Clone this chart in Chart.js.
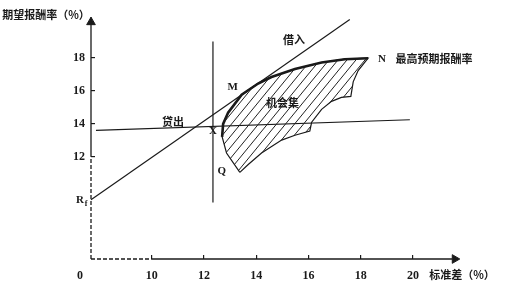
<!DOCTYPE html>
<html>
<head>
<meta charset="utf-8">
<script src="https://cdn.jsdelivr.net/npm/chart.js@4.4.1/dist/chart.umd.min.js"></script>
<style>
  body { margin: 0; background: #fff; }
</style>
</head>
<body>
<canvas id="chart1" width="506" height="287"></canvas>
<script>
// axis ranges and ticks
var xMin = 7.67, xMax = 21.8;
var yMin = 5.82, yMax = 20.44;
var xTicks = [10, 12, 14, 16, 18, 20];
var yTicks = [12, 14, 16, 18];
var rf = 9.4;

// capital market line (借入)
var cmlX = [xMin, 17.58];
var cmlY = [rf, 20.3];

// lending line (贷出)
var lendX = [7.86, 19.88];
var lendY = [13.60, 14.24];

// vertical line through X and Q
var vertX = [12.34, 12.34];
var vertY = [18.97, 9.24];

// efficient frontier, from the left edge to N
var frontX = [12.69, 12.73, 12.92, 13.44, 14.07, 14.58, 15.48, 16.50, 17.39, 18.28];
var frontY = [13.21, 13.99, 14.67, 15.75, 16.43, 16.82, 17.31, 17.70, 17.90, 17.96];

// opportunity set outline (机会集), closed
var setX = [13.37, 12.86, 12.69, 12.73, 12.92, 13.44, 14.07, 14.58, 15.48, 16.50, 17.39, 18.28,
            17.90, 17.71, 17.62, 17.26, 16.88, 16.50, 16.12, 16.05, 15.48, 14.97, 14.20, 13.68, 13.37];
var setY = [11.06, 12.23, 13.21, 13.99, 14.67, 15.75, 16.43, 16.82, 17.31, 17.70, 17.90, 17.96,
            17.21, 16.53, 15.65, 15.59, 15.35, 14.87, 14.09, 13.56, 13.30, 13.01, 12.23, 11.52, 11.06];

function pts(xs, ys) {
    return xs.map(function (x, i) { return { x: x, y: ys[i] }; });
}

// hatch pattern
var tile = document.createElement('canvas');
tile.width = 9; tile.height = 11;
var tc = tile.getContext('2d');
tc.strokeStyle = '#222';
tc.lineWidth = 1;
[-9, 0, 9].forEach(function (x0) {
    tc.beginPath();
    tc.moveTo(x0, 11);
    tc.lineTo(x0 + 9, 0);
    tc.stroke();
});
var hatch = tc.createPattern(tile, 'repeat');

var ink = '#1a1a1a';
var serifBold = 'bold 11px "Liberation Serif"';
var cjkBold = 'bold 11px "Noto Sans CJK SC"';

var labels = [
    { text: '借入', x: 15.44, y: 19.09, font: cjkBold },
    { text: 'N', x: 18.81, y: 17.92, font: serifBold },
    { text: '最高预期报酬率', x: 20.80, y: 17.92, font: cjkBold },
    { text: 'M', x: 13.10, y: 16.22, font: serifBold },
    { text: '机会集', x: 15.00, y: 15.28, font: cjkBold },
    { text: '贷出', x: 10.81, y: 14.11, font: cjkBold },
    { text: 'X', x: 12.34, y: 13.52, font: serifBold },
    { text: 'Q', x: 12.68, y: 11.11, font: serifBold }
];

var textPlugin = {
    id: 'texts',
    afterDatasetsDraw: function (chart) {
        var c = chart.ctx, xs = chart.scales.x, ys = chart.scales.y;
        c.save();
        c.fillStyle = ink;
        c.textAlign = 'center';
        c.textBaseline = 'middle';
        labels.forEach(function (l) {
            c.font = l.font;
            c.fillText(l.text, xs.getPixelForValue(l.x), ys.getPixelForValue(l.y));
        });
        // R_f on the y axis
        var ry = ys.getPixelForValue(rf);
        var ax = xs.getPixelForValue(xMin);
        c.font = serifBold;
        c.fillText('R', ax - 11, ry);
        c.font = 'bold 8px "Liberation Serif"';
        c.fillText('f', ax - 5, ry + 4);
        // origin label
        c.font = 'bold 12px "Liberation Serif"';
        c.fillText('0', ax - 11, 276);
        // axis titles
        c.font = cjkBold;
        c.fillText('期望报酬率（%）', 46, 15);
        c.fillText('标准差（%）', 462, 275);
        c.restore();
    }
};

var ctx1 = document.getElementById('chart1').getContext('2d');
var chart1 = new Chart(ctx1, {
    type: 'scatter',
    data: {
        datasets: [
            {   // opportunity set, hatched
                data: pts(setX, setY),
                showLine: true,
                fill: 'shape',
                backgroundColor: hatch,
                borderColor: ink,
                borderWidth: 1.2,
                pointRadius: 0
            },
            {   // efficient frontier, bold
                data: pts(frontX, frontY),
                showLine: true,
                borderColor: ink,
                borderWidth: 2.6,
                pointRadius: 0
            },
            {
                data: pts(cmlX, cmlY),
                showLine: true,
                borderColor: ink,
                borderWidth: 1.2,
                pointRadius: 0,
                clip: false
            },
            {
                data: pts(lendX, lendY),
                showLine: true,
                borderColor: ink,
                borderWidth: 1.2,
                pointRadius: 0
            },
            {
                data: pts(vertX, vertY),
                showLine: true,
                borderColor: ink,
                borderWidth: 1.2,
                pointRadius: 0
            },
            {   // y axis, solid part
                data: [{ x: xMin, y: 12 }, { x: xMin, y: yMax }],
                showLine: true, borderColor: ink, borderWidth: 1.3, pointRadius: 0, clip: false
            },
            {   // y axis, dashed part
                data: [{ x: xMin, y: yMin }, { x: xMin, y: 12 }],
                showLine: true, borderColor: ink, borderWidth: 1.3, borderDash: [4, 2], pointRadius: 0, clip: false
            },
            {   // x axis, dashed part
                data: [{ x: xMin, y: yMin }, { x: 10, y: yMin }],
                showLine: true, borderColor: ink, borderWidth: 1.3, borderDash: [4, 2], pointRadius: 0, clip: false
            },
            {   // x axis, solid part
                data: [{ x: 10, y: yMin }, { x: xMax - 0.3, y: yMin }],
                showLine: true, borderColor: ink, borderWidth: 1.3, pointRadius: 0, clip: false
            },
            {   // arrow heads
                data: [{ x: xMin, y: yMax - 0.3 }, { x: xMax - 0.2, y: yMin }],
                pointStyle: 'triangle',
                rotation: [0, 90],
                pointRadius: 5,
                backgroundColor: ink,
                borderColor: ink,
                borderWidth: 1,
                clip: false
            }
        ]
    },
    options: {
        responsive: false,
        animation: false,
        devicePixelRatio: 1,
        layout: { padding: { top: 10, right: 46, left: 0, bottom: 0 } },
        plugins: { legend: { display: false }, tooltip: { enabled: false } },
        scales: {
            x: {
                type: 'linear',
                min: xMin,
                max: xMax,
                afterBuildTicks: function (s) { s.ticks = xTicks.map(function (v) { return { value: v }; }); },
                afterFit: function (s) { s.height = 28; },
                border: { display: false },
                grid: { drawOnChartArea: false, drawTicks: true, tickLength: -4, color: ink, lineWidth: 1.2 },
                ticks: { color: ink, font: { family: 'Liberation Serif', size: 12, weight: 'bold' }, padding: 14, maxRotation: 0 }
            },
            y: {
                type: 'linear',
                min: yMin,
                max: yMax,
                afterBuildTicks: function (s) { s.ticks = yTicks.map(function (v) { return { value: v }; }); },
                afterFit: function (s) { s.width = 91; },
                border: { display: false },
                grid: { drawOnChartArea: false, drawTicks: true, tickLength: -4, color: ink, lineWidth: 1.2 },
                ticks: { color: ink, font: { family: 'Liberation Serif', size: 12, weight: 'bold' }, padding: 10 }
            }
        }
    },
    plugins: [textPlugin]
});
</script>
</body>
</html>
